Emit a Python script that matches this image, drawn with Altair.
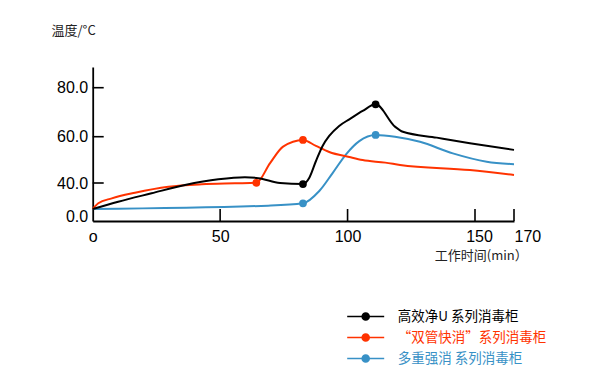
import altair as alt
import pandas as pd

# ---- data ----
series_names = ["高效净U 系列消毒柜", "“双管快消”系列消毒柜", "多重强消 系列消毒柜"]
series_colors = ["#000000", "#ff3300", "#3891c6"]

black_x = [0, 10.0, 23.1, 36.2, 49.3, 59.7, 65.0, 73.5, 82.5, 85.0, 87.6, 90.2, 92.8, 96.7, 100.7, 105.9, 111, 118.6, 121.7, 135.0, 148.0, 170]
black_y = [9.1, 17.8, 27.8, 37.6, 41.6, 42.5, 42.1, 40.0, 38.8, 42.3, 49.5, 56.0, 60.3, 64.4, 67.1, 70.5, 73.2, 64.1, 62.0, 59.6, 57.2, 54.3]

red_x = [0, 2.2, 7.5, 16.6, 29.7, 42.8, 55.8, 64.2, 69.6, 74.7, 82.5, 87.6, 92.8, 100.7, 105.9, 114.8, 120.6, 148.0, 170]
red_y = [9.1, 15.9, 21.8, 28.5, 35.6, 38.5, 39.6, 40.1, 48.6, 55.7, 58.6, 56.0, 53.4, 51.2, 49.9, 48.8, 47.8, 45.6, 43.5]

blue_x = [0, 68.8, 82.5, 88.9, 94.2, 99.4, 104.6, 111, 118.6, 128.4, 141.3, 156.0, 170]
blue_y = [9.1, 13.1, 15.9, 30.5, 44.4, 52.4, 58.1, 60.7, 60.0, 57.8, 52.8, 49.2, 48.1]

black_dot_x = [82.5, 111]
black_dot_y = [38.8, 73.2]
red_dot_x = [64.2, 82.5]
red_dot_y = [40.1, 58.6]
blue_dot_x = [82.5, 111]
blue_dot_y = [15.9, 60.7]

x_tick_values = [0, 50, 100, 150, 170]
x_tick_marks = [50, 100, 150, 170]
y_tick_values = [0, 40, 60, 80]
y_tick_marks = [40, 60, 80]

# ---- tables ----
def mk(xs, ys, name):
    return pd.DataFrame({"x": xs, "y": ys, "series": name, "order": range(len(xs))})

lines = pd.concat([
    mk(blue_x, blue_y, series_names[2]),
    mk(red_x, red_y, series_names[1]),
    mk(black_x, black_y, series_names[0]),
])
dots = pd.concat([
    mk(blue_dot_x, blue_dot_y, series_names[2]),
    mk(red_dot_x, red_dot_y, series_names[1]),
    mk(black_dot_x, black_dot_y, series_names[0]),
])
xt = pd.DataFrame({"x": x_tick_marks})
yt = pd.DataFrame({"y": y_tick_marks})

W = 421.3
H = 154
NUM_FONT = "Liberation Sans"
CJK_FONT = "Noto Sans CJK SC"

xscale = alt.Scale(domain=[0, 150, 170], range=[0, 382.3, W], nice=False, zero=False)
yscale = alt.Scale(domain=[-5, 0, 40, 60, 80, 88.4], range=[H, 149.7, 116, 69.7, 20.7, 0],
                   nice=False, zero=False)
cscale = alt.Scale(domain=series_names, range=series_colors)

x_axis = alt.Axis(
    values=x_tick_values, format="d",
    labelExpr="datum.value == 0 ? 'o' : datum.label",
    labelAlign={"condition": {"test": "datum.value == 170", "value": "left"}, "value": "center"},
    labelOffset={"condition": {"test": "datum.value == 150", "value": 4}, "value": 0},
    labelFlush=False, labelBound=False, labelOverlap=False,
    ticks=False, tickSize=0, grid=False,
    labelFont=NUM_FONT, labelFontSize=16, labelColor="#000000",
    labelBaseline="middle", labelPadding=15.7,
    domainColor="#000000", domainWidth=1.8,
    title="工作时间(min）", titleFont=CJK_FONT, titleFontSize=13, titleFontWeight="normal",
    titleColor="#222222", titleX=388, titleY=34.7, titleAlign="center", titleBaseline="middle",
)
y_axis = alt.Axis(
    values=y_tick_values, format=".1f",
    labelFlush=False, labelBound=False, labelOverlap=False,
    ticks=False, tickSize=0, grid=False,
    labelFont=NUM_FONT, labelFontSize=16, labelColor="#000000", labelPadding=5,
    labelBaseline="middle",
    domainColor="#000000", domainWidth=1.8,
    title="温度/°C", titleFont=CJK_FONT, titleFontSize=13, titleFontWeight="normal",
    titleColor="#222222", titleAngle=0, titleX=-41.7, titleY=-37,
    titleAlign="left", titleBaseline="middle",
)

color_expr = "scale('color', datum.value)"
legend = alt.Legend(
    orient="none", legendX=262.5, legendY=239, title=None, padding=0,
    symbolType="M-2,0L2,0M-0.38,0A0.38,0.38,0,1,0,0.38,0A0.38,0.38,0,1,0,-0.38,0Z",
    symbolSize=342, symbolStrokeWidth=1.6,
    symbolStrokeColor={"expr": color_expr}, symbolFillColor={"expr": color_expr},
    symbolOpacity=1,
    labelColor={"expr": color_expr}, labelFont=CJK_FONT, labelFontSize=13.5,
    labelOffset=21.5, rowPadding=3, labelLimit=300,
)

X = alt.X("x:Q", scale=xscale, axis=x_axis)
Y = alt.Y("y:Q", scale=yscale, axis=y_axis)
C = alt.Color("series:N", scale=cscale, legend=legend)

line_layer = alt.Chart(lines).mark_line(interpolate="monotone", strokeWidth=2).encode(
    x=X, y=Y, color=C, detail="series:N", order="order:Q",
)
dot_layer = alt.Chart(dots).mark_point(filled=True, size=60, opacity=1).encode(
    x=X, y=Y, color=C,
)
xtick_layer = alt.Chart(xt).mark_rule(color="#000000", strokeWidth=1.6).encode(
    x=X, y=alt.value(H), y2=alt.value(H - 12),
)
ytick_layer = alt.Chart(yt).mark_rule(color="#000000", strokeWidth=1.6).encode(
    y=Y, x=alt.value(0), x2=alt.value(11),
)

chart = alt.layer(line_layer, dot_layer, xtick_layer, ytick_layer).properties(
    width=W, height=H,
    autosize="none",
    padding={"left": 84.7, "top": 59, "right": 60, "bottom": 145},
    background="#ffffff",
).configure_view(strokeWidth=0)

chart.save("out.html", embed_options={"renderer": "svg", "actions": False})
